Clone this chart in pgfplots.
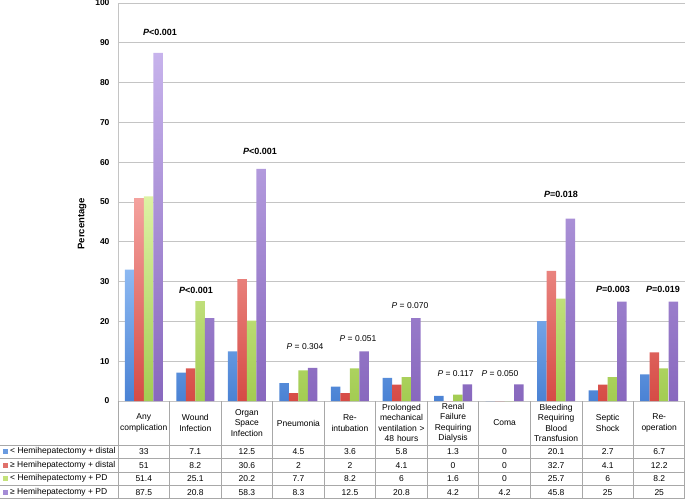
\documentclass[border=0pt]{standalone}
\usepackage{pgfplots}
\pgfplotsset{compat=1.18}
\usepackage{pgfplotstable}
\usepackage{fontspec}
\setmainfont{Liberation Sans}
\newcommand\tabfont{\fontsize{8.5}{10.5}\selectfont}
\definecolor{blueT}{HTML}{8DB9F2}\definecolor{blueB}{HTML}{4A82D4}\definecolor{blueM}{HTML}{6A9BE0}
\definecolor{redT}{HTML}{F4A29E}\definecolor{redB}{HTML}{D64B45}\definecolor{redM}{HTML}{E0716B}
\definecolor{greenT}{HTML}{DDF2A4}\definecolor{greenB}{HTML}{A3CC52}\definecolor{greenM}{HTML}{C4E27A}
\definecolor{purpT}{HTML}{C7B3EC}\definecolor{purpB}{HTML}{8868BE}\definecolor{purpM}{HTML}{A58CD6}
\definecolor{gridc}{HTML}{C4C4C4}
\definecolor{tabc}{HTML}{A8A8A8}

\pgfplotstableread{
x a b c d
0 33 51 51.4 87.5
1 7.1 8.2 25.1 20.8
2 12.5 30.6 20.2 58.3
3 4.5 2 7.7 8.3
4 3.6 2 8.2 12.5
5 5.8 4.1 6 20.8
6 1.3 0 1.6 4.2
7 0 0 0 4.2
8 20.1 32.7 25.7 45.8
9 2.7 4.1 6 25
10 6.7 12.2 8.2 25
}\datatable

\begin{document}
\begin{tikzpicture}
\begin{axis}[
  at={(0,0)}, anchor=south west, scale only axis,
  width=567pt, height=398pt,
  ybar=0pt, bar width=9.5pt,
  xmin=-0.5, xmax=10.5, ymin=0, ymax=100,
  ytick={0,10,...,100},
  xtick={0,...,10},
  xticklabels={{Any\\complication},{Wound\\Infection},{Organ\\Space\\Infection},{Pneumonia},{Re-\\intubation},{Prolonged\\mechanical\\ventilation >\\48 hours},{Renal\\Failure\\Requiring\\Dialysis},{Coma},{Bleeding\\Requiring\\Blood\\Transfusion},{Septic\\Shock},{Re-\\operation}},
  xticklabel style={anchor=center, yshift=-22pt, text width=50pt, align=center, font=\tabfont},
  yticklabel style={font=\bfseries\tabfont, xshift=-5pt},
  /pgf/number format/assume math mode=true,
  ymajorgrids, grid style={draw=gridc, line width=0.8pt},
  major tick length=0pt,
  axis x line*=bottom, axis y line*=left,
  axis line style={-, draw=gridc, line width=0.8pt},
  every axis y label/.style={at={([xshift=-36pt]axis description cs:0,0.445)}, anchor=center, rotate=90, font=\bfseries\fontsize{9.5}{11}\selectfont},
  ylabel={Percentage},
  clip=false,
]
\addplot[draw=none, top color=blueT, bottom color=blueB] table[x=x,y=a]{\datatable};
\addplot[draw=none, top color=redT, bottom color=redB] table[x=x,y=b]{\datatable};
\addplot[draw=none, top color=greenT, bottom color=greenB] table[x=x,y=c]{\datatable};
\addplot[draw=none, top color=purpT, bottom color=purpB] table[x=x,y=d]{\datatable};
\tikzset{pb/.style={font=\bfseries\fontsize{9}{10}\selectfont, anchor=center}, pn/.style={font=\fontsize{8.5}{10}\selectfont, anchor=center}}
\node[pb] at (axis cs:0.315,92.7) {\textit{P}<0.001};
\node[pb] at (axis cs:1.013,27.9) {\textit{P}<0.001};
\node[pb] at (axis cs:2.255,62.6) {\textit{P}<0.001};
\node[pn] at (axis cs:3.128,13.6) {\textit{P} = 0.304};
\node[pn] at (axis cs:4.156,15.6) {\textit{P} = 0.051};
\node[pn] at (axis cs:5.165,23.9) {\textit{P} = 0.070};
\node[pn] at (axis cs:6.048,7.0) {\textit{P} = 0.117};
\node[pn] at (axis cs:6.911,7.0) {\textit{P} = 0.050};
\node[pb] at (axis cs:8.095,52) {\textit{P}=0.018};
\node[pb] at (axis cs:9.103,28.1) {\textit{P}=0.003};
\node[pb] at (axis cs:10.073,28.1) {\textit{P}=0.019};
\end{axis}
\begin{scope}[x=1pt,y=1pt]
\def\cw{51.5454545}
% table lines
\foreach \k in {0,...,10} {\draw[tabc, line width=0.7pt] ({\cw*\k},0) -- ({\cw*\k},-98);}
\draw[tabc, line width=0.7pt] (566.6,0) -- (566.6,-98);
\foreach \yy in {-44,-57.5,-71,-84.5,-97.6} {\draw[tabc, line width=0.7pt] (-118,\yy) -- (567,\yy);}
% row labels
\foreach \lab/\col [count=\r from 0] in {{< Hemihepatectomy + distal}/blueM, {≥ Hemihepatectomy + distal}/redM, {< Hemihepatectomy + PD}/greenM, {≥ Hemihepatectomy + PD}/purpM} {
  \fill[\col] (-115,{-50.75-13.5*\r-2.5}) rectangle (-110,{-50.75-13.5*\r+2.5});
  \node[anchor=west, inner sep=0pt, font=\tabfont] at (-108,{-50.75-13.5*\r}) {\lab};
}
% values
\foreach \vals [count=\r from 0] in {{33,7.1,12.5,4.5,3.6,5.8,1.3,0,20.1,2.7,6.7},{51,8.2,30.6,2,2,4.1,0,0,32.7,4.1,12.2},{51.4,25.1,20.2,7.7,8.2,6,1.6,0,25.7,6,8.2},{87.5,20.8,58.3,8.3,12.5,20.8,4.2,4.2,45.8,25,25}} {
  \foreach \v [count=\c from 0] in \vals {
    \node[font=\tabfont, inner sep=0pt] at ({\cw*(\c+0.5)},{-50.75-13.5*\r}) {\v};
  }
}
\pgfresetboundingbox
\path[use as bounding box] (-118,-98) rectangle (567,401);
\end{scope}
\end{tikzpicture}
\end{document}
